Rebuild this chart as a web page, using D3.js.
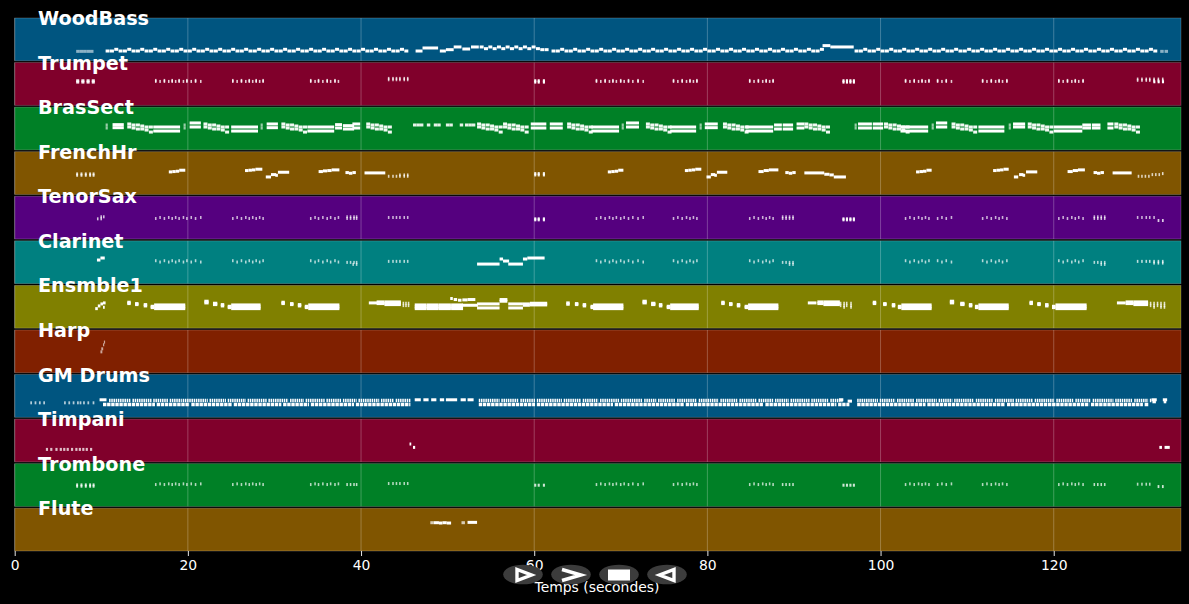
<!DOCTYPE html>
<html lang="fr">
<head>
<meta charset="utf-8">
<title>Piano roll</title>
<script src="https://cdn.jsdelivr.net/npm/d3@7"></script>
<style>
	html, body { margin: 0; background: #000; overflow: hidden; }
	svg { display: block; }
	text { font-family: "DejaVu Sans", sans-serif; fill: #fff; }
</style>
</head>
<body>
<svg></svg>
<script>
// Tick labels and axis title
let xTicks = [0, 20, 40, 60, 80, 100, 120];
let xLabel = "Temps (secondes)";
let duration = 134.7;

// Instruments, top to bottom, and their panel colours
let instruments = ["WoodBass", "Trumpet", "BrasSect", "FrenchHr", "TenorSax", "Clarinet", "Ensmble1", "Harp", "GM Drums", "Timpani", "Trombone", "Flute"];
let colors = ["#005580", "#80002b", "#008026", "#805500", "#55007f", "#008080", "#808000", "#802000", "#005580", "#80002b", "#008026", "#805500"];

// Section hits shared by the horns (seconds)
let hitsA = [16.2,17.2,18.1,18.9,19.8,20.8,25.1,26.1,27,27.8,28.6,34.1,35,36,36.9,67.1,68.1,69,69.9,70.8,71.9,76,77,77.9,78.7,84.8,85.8,86.7,87.5,102.8,103.8,104.7,105.5,106.5,107.5,111.7,112.7,113.6,114.5,120.5,121.5,122.4,123.3];
let hitsB = [16.7,17.7,18.5,19.4,20.3,21.4,25.6,26.6,27.4,28.2,34.6,35.5,36.4,37.3,67.6,68.6,69.4,70.3,71.3,72.5,76.5,77.5,78.3,85.3,86.3,87.1,103.3,104.3,105.1,107,108.1,112.2,113.2,114,121,122,122.8];
let hitsRise = [43.1,43.6,44,44.4,44.9,45.3];
let hitsTag = [38.3,38.7,39.1,39.4,88.6,89,89.4,89.8,124.6,125,125.4,125.8];
let hitsBlock = [60,60.4,61,95.6,96,96.4,96.8];
let hitsEnd = [129.6,130.1,130.6,131,131.5,132,132.5];
let hitsIntro = [7.1,7.6,8.1,8.6,9];

// WoodBass: [pitch, duration, opacity, times]
let bassRows = [
	[28, 0.4, 0.55, [7.1,7.5,7.9,8.3,8.7,132.3,132.8]],
	[29, 0.46, 1, [10.5,11,12,12.5,13.5,14,15,15.5,16.5,17,18,18.5,19.5,20,21,21.5,22.5,23,24,24.5,25.5,26,27,27.5,28.5,29,30,30.5,31.5,32,33,33.5,34.5,35,36,36.5,37.5,38,39,39.5,40.5,41,42,42.5,43.5,44,45,62,62.5,63.5,64,65,65.5,66.5,67,68,68.5,69.5,70,71,71.5,72.5,73,74,74.5,75.5,76,77,77.5,78.5,79,80,80.5,81.5,82,83,83.5,84.5,85,86,86.5,87.5,88,89,89.5,90.5,91,92,92.5,97,97.5,98.5,99,100,100.5,101.5,102,103,103.5,104.5,105,106,106.5,107.5,108,109,109.5,110.5,111,112,112.5,113.5,114,115,115.5,116.5,117,118,118.5,119.5,120,121,121.5,122.5,123,124,124.5,125.5,126,127,127.5,128.5,129,130,130.5,131.5]],
	[34, 0.46, 1, [11.5,13,14.5,16,17.5,19,20.5,22,23.5,25,26.5,28,29.5,31,32.5,34,35.5,37,38.5,40,41.5,43,44.5,63,64.5,66,67.5,69,70.5,72,73.5,75,76.5,78,79.5,81,82.5,84,85.5,87,88.5,90,91.5,93,98,99.5,101,102.5,104,105.5,107,108.5,110,111.5,113,114.5,116,117.5,119,120.5,122,123.5,125,126.5,128,129.5,131]],
	[41, 0.46, 1, [53.7,54.7,55.7,56.7,57.7,58.7,59.7]],
	[36, 0.46, 1, [54.2,55.2,56.2,57.2,58.2,59.2,60.2]],
	[33, 0.46, 1, [60.7,61.2]]
];
let bassSpans = [[46.3,0.8,29],[47.1,1.8,38],[49.1,0.7,29],[49.8,0.9,33],[50.7,0.9,41],[51.7,0.9,35],[52.7,0.9,41],[93.3,0.9,45],[94.2,2.7,41]];

// Trumpet
let trumpetRows = [
	[69, 0.35, 0.9, [7.1,7.7,8.3,8.9]],
	[73, 0.35, 0.9, [7.1,7.7,8.3,8.9]],
	[71, 0.18, 0.8, hitsA],
	[71, 0.18, 0.8, hitsB],
	[74, 0.18, 0.8, hitsA],
	[76, 0.18, 0.75, hitsRise],
	[80, 0.18, 0.75, hitsRise],
	[69, 0.24, 1, hitsBlock],
	[73, 0.24, 1, hitsBlock],
	[74, 0.18, 0.7, hitsEnd],
	[78, 0.18, 0.8, hitsEnd],
	[70, 0.24, 1, [131.5,132,132.5]]
];

// BrasSect: falling stairs of paired notes
let stairTop = [13,21.8,30.8,40.6,53.4,56.4,63.8,72.9,81.8,91.2,100.4,108.2,117,127];
let stairStep1 = [13.5,22.3,31.3,41.1,53.9,56.9,64.3,73.4,82.3,91.7,100.9,108.7,117.5,127.5];
let stairStep2 = [14,22.8,31.8,41.6,54.4,57.4,64.8,73.9,82.8,92.2,101.4,109.2,118,128];
let stairStep3 = [14.5,23.3,32.3,42.1,54.9,57.9,65.3,74.4,83.3,92.7,101.9,109.7,118.5,128.5];
let stairStep4 = [15,23.8,32.8,42.6,55.4,58.4,65.8,74.9,83.8,93.2,102.4,110.2,119,129];
let stairStep5 = [15.5,24.3,33.3,43.1,55.9,58.9,66.3,75.4,84.3,93.7,102.9,110.7,119.5,129.5];
let brassRows = [
	[77, 0.46, 0.95, stairTop], [68, 0.46, 0.95, stairTop],
	[74, 0.46, 0.95, stairStep1], [65, 0.46, 0.95, stairStep1],
	[74, 0.46, 0.95, stairStep2], [62, 0.46, 0.95, stairStep2],
	[71, 0.46, 0.95, stairStep3], [62, 0.46, 0.95, stairStep3],
	[68, 0.46, 0.95, stairStep4], [59, 0.46, 0.95, stairStep4],
	[68, 0.46, 0.95, stairStep5], [53, 0.46, 0.95, stairStep5],
	[74, 0.25, 0.6, [10.5,19.5,28.4,70.1,79.1,97,105.9,114.8]],
	[65, 0.25, 0.6, [10.5,19.5,28.4,70.1,79.1,97,105.9,114.8]],
	[74, 0.4, 0.9, [46,46.4,46.8,47.6,48.4,48.8,49.8,50.2,51.4,52,52.4,52.8]]
];
let brassLong = [[16,3.1],[25,3.1],[33.8,3.1],[66.6,3.2],[75.7,3],[84.4,3.2],[102.3,3.2],[111.3,3],[120,3.3]];
// [start, duration, upper pitch, lower pitch]
let brassShort = [[11.3,1.3,75,66],[20.2,1.3,80,68],[29.1,1.3,77,66],[37,0.8,75,65],[37.9,1.3,72,62],[39,0.9,77,65],[59.6,1.8,77,65],[61.8,1.5,77,65],[70.6,1.5,80,68],[79.7,1.5,77,66],[87.7,0.9,74,62],[88.7,1.2,74,62],[90.3,0.9,77,65],[97.4,1.6,77,65],[99.1,1.2,77,65],[106.4,1.3,80,68],[115.3,1.4,77,68],[123.3,1,74,65],[124.4,1,74,65],[126.2,0.7,77,65]];

// FrenchHr
let hornRows = [
	[57, 0.22, 0.8, hitsIntro],
	[61, 0.22, 0.8, hitsIntro],
	[54, 0.18, 0.75, hitsRise],
	[58, 0.18, 0.75, [44.4,44.9,45.3]],
	[58, 0.24, 0.9, [60,60.4,61]],
	[62, 0.24, 0.9, [60,60.4,61]],
	[54, 0.18, 0.75, [129.7,130.1,130.5,130.9]],
	[59, 0.18, 0.75, [131.3,131.7,132.1]],
	[62, 0.18, 0.8, [132.5]]
];
let hornSpans = [
	[17.8,0.4,67],[18.2,0.4,68],[18.6,0.4,69],[19,0.7,72],
	[26.6,0.4,71],[27,0.4,72],[27.4,0.4,73],[27.8,0.8,75],
	[29,0.6,52],[29.6,0.6,59],[30.1,0.3,57],[30.4,1.3,66],
	[35.1,0.5,68],[35.6,0.5,70],[36.1,0.5,71],[36.6,0.9,73],
	[38.2,0.4,65],[38.6,0.4,63],[39,0.4,65],[40.4,2.4,64],
	[68.5,0.4,67],[68.9,0.4,68],[69.3,0.4,69],[69.7,0.6,72],
	[77.4,0.4,71],[77.8,0.4,72],[78.2,0.4,73],[78.6,0.7,75],
	[79.9,0.5,52],[80.4,0.5,59],[80.8,0.3,57],[81.1,1.2,66],
	[85.9,0.6,68],[86.5,0.6,71],[87.1,1.1,73],[89,0.4,65],[89.4,0.4,63],[89.8,0.4,65],
	[91.2,2.3,64],[93.5,0.6,60],[94.1,0.5,58],[94.6,1.4,52],
	[104.1,0.4,67],[104.5,0.4,68],[104.9,0.4,69],[105.3,0.6,72],
	[113,0.4,71],[113.4,0.4,72],[113.8,0.4,73],[114.2,0.6,75],
	[115.4,0.5,52],[116,0.5,59],[116.4,0.3,57],[116.8,1.3,67],
	[121.6,0.6,68],[122.2,0.6,71],[122.8,0.8,73],[124.6,0.4,65],[125,0.4,63],[125.4,0.4,65],
	[126.8,2.2,64]
];

// TenorSax
let saxRows = [
	[60, 0.18, 0.75, [9.5,9.9]],
	[66, 0.18, 0.75, [9.9,10.2]],
	[61, 0.18, 0.7, hitsA],
	[64, 0.18, 0.7, hitsB],
	[64, 0.18, 0.7, hitsRise],
	[61, 0.18, 0.7, hitsTag],
	[66, 0.18, 0.7, hitsTag],
	[57, 0.24, 0.9, hitsBlock],
	[60, 0.24, 0.9, hitsBlock],
	[64, 0.18, 0.7, [129.6,130.1,130.6,131,131.5]],
	[55, 0.2, 0.8, [132,132.5]]
];

// Clarinet
let clarinetRows = [
	[68, 0.18, 0.7, hitsA],
	[64, 0.18, 0.7, hitsB],
	[66, 0.18, 0.7, hitsRise],
	[63, 0.18, 0.7, hitsTag],
	[57, 0.18, 0.7, [39,39.4,89.4,89.8,125.4,125.8]],
	[66, 0.18, 0.75, hitsEnd],
	[61, 0.18, 0.8, [131.5,132,132.5]]
];
let clarinetSpans = [[9.5,0.4,70],[9.9,0.5,76],[53.4,2.6,58],[56,0.4,73],[56.4,0.7,67],[57,1.7,58],[58.7,0.5,73],[59.2,2,76]];

// Ensmble1: single notes, three-note blocks and two-note blocks
let ensembleSpans = [
	[9.3,0.3,58],[9.6,0.3,66],[9.9,0.3,72],[10.2,0.3,75],[10.2,0.2,62],
	[13,0.4,77],[13,0.4,73],[13.9,0.4,73],[13.9,0.4,70],[14.9,0.4,70],[14.9,0.4,66],[15.7,0.4,65],[15.7,0.4,61],
	[21.9,0.5,80],[21.9,0.5,75],[22.9,0.5,74],[22.9,0.5,70],[23.8,0.4,70],[23.8,0.4,66],[24.6,0.4,65],[24.6,0.4,61],
	[30.8,0.4,77],[30.8,0.4,73],[31.8,0.4,73],[31.8,0.4,70],[32.7,0.4,70],[32.7,0.4,66],[33.5,0.4,65],[33.5,0.4,61],
	[40.9,1,75],[41.8,0.9,78],[41.8,0.9,73],[42.7,1.9,78],[42.7,1.9,74],[42.7,1.9,70],
	[50.3,0.3,88],[50.7,0.4,85],[51.2,0.4,83],[51.7,0.6,84],[52.3,0.9,85],
	[51.7,1.8,68],[56,0.9,85],[56,0.9,80],[58.7,0.8,68],[58.7,0.8,72],[59.5,2,74],[59.5,2,69],
	[63.7,0.4,75],[63.7,0.4,71],[64.7,0.4,73],[64.7,0.4,70],[65.6,0.4,70],[65.6,0.4,66],[66.5,0.4,65],[66.5,0.4,61],
	[72.5,0.5,80],[72.5,0.5,75],[73.5,0.5,74],[73.5,0.5,70],[74.4,0.4,70],[74.4,0.4,66],[75.3,0.4,65],[75.3,0.4,61],
	[81.6,0.4,77],[81.6,0.4,73],[82.5,0.4,73],[82.5,0.4,70],[83.4,0.4,70],[83.4,0.4,66],[84.3,0.4,65],[84.3,0.4,61],
	[91.6,1,75],[92.7,0.7,78],[92.7,0.7,73],[93.4,1.9,78],[93.4,1.9,74],[93.4,1.9,70],
	[99.1,0.4,77],[99.1,0.4,73],[100.3,0.4,73],[100.3,0.4,70],[101.3,0.4,70],[101.3,0.4,66],[102,0.4,65],[102,0.4,61],
	[108,0.5,80],[108,0.5,75],[109.2,0.5,74],[109.2,0.5,70],[110.2,0.4,70],[110.2,0.4,66],[110.9,0.4,65],[110.9,0.4,61],
	[117.2,0.4,77],[117.2,0.4,73],[118.1,0.4,73],[118.1,0.4,70],[119,0.4,70],[119,0.4,66],[119.8,0.4,65],[119.8,0.4,61],
	[127.3,1,75],[128.3,0.9,78],[128.3,0.9,73],[129.2,1.7,78],[129.2,1.7,74],[129.2,1.7,70]
];
let ensembleBlocks = [[16.1,3.6],[25,3.4],[33.9,3.6],[46.2,1.38],[47.6,1.38],[49,1.38],[50.4,1.38],[66.8,3.5],[75.7,3.3],[84.7,3.5],[102.4,3.5],[111.3,3.5],[120.2,3.6]];
let ensembleDoubles = [[53.4,2.6],[57,1.7]];
let ensembleRows = [
	[74, 0.18, 0.8, [44.8,45.1,45.4,95.3,95.7,96,96.5,131.1,131.5,131.9,132.3,132.7]],
	[67, 0.18, 0.8, [44.8,45.1,45.4,95.3,95.7,96,96.5,131.1,131.5,131.9,132.3,132.7]],
	[62, 0.18, 0.8, [95.7,96.5,131.5,132.3,132.7]]
];

// Harp
let harpRows = [[62, 0.22, 0.6, [9.9]], [71, 0.22, 0.6, [10]], [83, 0.14, 0.6, [10.2]], [91, 0.14, 0.6, [10.3]]];

// GM Drums: dense runs of hits [start, duration]
let drumUpperRuns = [[10.9,2.5],[13.6,2.2],[16,1.7],[17.9,1.4],[19.4,2.9],[22.5,1.9],[24.6,2.1],[26.9,2.2],[29.3,2.3],[31.8,1.6],[33.6,2.2],[36,1.7],[37.9,1.6],[39.7,2.4],[42.3,1.5],[44,1.7],[53.6,2.4],[56.2,2],[58.4,1.7],[60.3,2.9],[63.4,2],[65.6,1.8],[67.6,2.2],[70,2.5],[72.7,1.4],[74.3,2],[76.5,2.3],[79,2.3],[81.5,2],[83.7,2],[85.9,1.7],[87.8,1.6],[89.6,2.2],[92,2],[94.2,1.4],[97.3,2.4],[99.9,1.8],[101.9,2],[104.1,2.4],[106.7,1.6],[108.5,2.3],[111,2],[113.2,2.2],[115.6,2],[117.8,2.3],[120.3,2],[122.5,1.8],[124.5,2.4],[127.1,2],[129.3,1.6],[131.1,0.2]];
let drumLowerRuns = [[10.2,6],[16.4,3.8],[20.4,4.7],[25.3,5.5],[31,3],[34.2,5],[39.4,6.3],[53.6,6.5],[60.3,8.8],[69.3,8],[77.5,9],[86.7,8.2],[95.1,1.3],[97.3,7.9],[105.4,9],[114.6,9.5],[124.3,6],[130.5,0.5]];
let drumIntro = [1.8,2.3,2.8,3.3,5.7,6.2,6.7,7.2,7.5,7.9,8.4,9];
let drumSpans = [[9.8,0.8,52],[46.2,0.7,52],[47.2,0.6,52],[48.1,0.6,52],[49.1,0.5,52],[49.8,1.3,52],[51.5,0.6,52],[52.3,0.7,52],[95.2,0.5,52],[96.2,0.5,48],[131.3,0.6,52],[131.4,0.4,46],[132.6,0.5,52],[132.7,0.3,46]];

// Timpani, Trombone, Flute
let timpaniRows = [[37, 0.25, 0.75, [3.6,4.1,4.7,5.2,5.6,6,6.5,7,7.4,7.8,8.2,8.7]]];
let timpaniSpans = [[45.6,0.2,53],[46,0.25,43],[132.2,0.3,43],[132.8,0.6,43]];
let tromboneRows = [
	[60, 0.22, 0.8, hitsIntro],
	[64, 0.22, 0.8, hitsIntro],
	[65, 0.18, 0.7, hitsA],
	[67, 0.18, 0.7, hitsB],
	[68, 0.18, 0.7, hitsRise],
	[65, 0.18, 0.75, hitsTag],
	[63, 0.24, 0.8, hitsBlock],
	[66, 0.18, 0.7, [129.6,130.1,130.6,131]],
	[59, 0.2, 0.8, [132,132.5]]
];
let fluteRows = [[84, 0.4, 0.7, [48,51.6]]];
let fluteSpans = [[48.4,0.6,84],[49,0.4,83],[49.4,0.5,84],[49.9,0.5,83],[52.3,1.1,85]];

// Player buttons
let buttonCenters = [523, 571, 619, 667];

// Chart variables
let width = 1189;
let height = 604;
let plotLeft = 14.7;
let plotRight = 1181;
let plotTop = 18;
let plotBottom = 551;
let noteHeight = 3;

let svg = d3.select("svg").attr("width", width).attr("height", height);

let xScale = d3.scaleLinear().domain([0, duration]).range([plotLeft, plotRight]);
let panelScale = d3.scaleBand().domain(instruments).range([plotTop, plotBottom]).paddingInner(0.04);

// Flatten rows and spans into {t, d, p, o} notes
let fromRows = (rows) => rows.flatMap(([p, d, o, times]) => times.map((t) => ({ t, d, p, o })));
let fromSpans = (spans) => spans.map(([t, d, p]) => ({ t, d, p, o: 1 }));

let notesByInstrument = {
	WoodBass: [...fromRows(bassRows), ...fromSpans(bassSpans)],
	Trumpet: fromRows(trumpetRows),
	BrasSect: [
		...fromRows(brassRows),
		...fromSpans(brassLong.flatMap(([t, d]) => [[t, d, 68], [t, d, 56]])),
		...fromSpans(brassShort.flatMap(([t, d, hi, lo]) => [[t, d, hi], [t, d, lo]]))
	],
	FrenchHr: [...fromRows(hornRows), ...fromSpans(hornSpans)],
	TenorSax: fromRows(saxRows),
	Clarinet: [...fromRows(clarinetRows), ...fromSpans(clarinetSpans)],
	Ensmble1: [
		...fromRows(ensembleRows),
		...fromSpans(ensembleSpans),
		...fromSpans(ensembleBlocks.flatMap(([t, d]) => [[t, d, 69], [t, d, 63], [t, d, 58]])),
		...fromSpans(ensembleDoubles.flatMap(([t, d]) => [[t, d, 72], [t, d, 60]]))
	],
	Harp: fromRows(harpRows),
	"GM Drums": [...fromRows([[43, 0.2, 0.7, drumIntro]]), ...fromSpans(drumSpans)],
	Timpani: [...fromRows(timpaniRows), ...fromSpans(timpaniSpans)],
	Trombone: fromRows(tromboneRows),
	Flute: [...fromRows(fluteRows), ...fromSpans(fluteSpans)]
};

let drawPanels = () => {
	instruments.forEach((name, i) => {
		let y0 = panelScale(name);
		let yScale = d3.scaleLinear().domain([0, 127]).range([y0 + panelScale.bandwidth(), y0]);
		let panel = svg.append("g").attr("class", "panel");

		panel.append("rect")
			.attr("x", plotLeft)
			.attr("y", y0)
			.attr("width", plotRight - plotLeft)
			.attr("height", panelScale.bandwidth())
			.attr("fill", colors[i])
			.attr("stroke", "rgba(255,255,255,0.25)")
			.attr("stroke-width", 0.8);

		panel.selectAll("line.grid")
			.data(xTicks)
			.join("line")
			.attr("class", "grid")
			.attr("x1", (d) => xScale(d))
			.attr("x2", (d) => xScale(d))
			.attr("y1", y0)
			.attr("y2", y0 + panelScale.bandwidth())
			.attr("stroke", "#fff")
			.attr("stroke-opacity", 0.28)
			.attr("stroke-width", 0.9);

		panel.selectAll("rect.note")
			.data(notesByInstrument[name])
			.join("rect")
			.attr("class", "note")
			.attr("x", (d) => xScale(d.t))
			.attr("y", (d) => yScale(d.p) - noteHeight / 2)
			.attr("width", (d) => xScale(d.t + d.d) - xScale(d.t))
			.attr("height", noteHeight)
			.attr("fill", "#fff")
			.attr("fill-opacity", (d) => d.o);

		// Drum runs are too dense to read hit by hit, so they are dashed
		if (name === "GM Drums") {
			let drawRuns = (runs, pitch, thickness, dash) => {
				panel.selectAll(null)
					.data(runs)
					.join("line")
					.attr("x1", (d) => xScale(d[0]))
					.attr("x2", (d) => xScale(d[0] + d[1]))
					.attr("y1", yScale(pitch))
					.attr("y2", yScale(pitch))
					.attr("stroke", "#fff")
					.attr("stroke-width", thickness)
					.attr("stroke-dasharray", dash);
			};
			drawRuns(drumUpperRuns, 50, 3.6, "1.5 0.7");
			drawRuns(drumLowerRuns, 38, 3.4, "3.4 0.7");
		}
	});
};

let drawAxis = () => {
	let xAxis = d3.axisBottom(xScale).tickValues(xTicks).tickSize(5).tickPadding(4);

	let axis = svg.append("g")
		.attr("transform", "translate(0, " + plotBottom + ")")
		.call(xAxis);

	axis.select(".domain").remove();
	axis.selectAll(".tick line").attr("stroke", "#fff").attr("stroke-width", 0.9);
	axis.selectAll(".tick text").style("font-family", "DejaVu Sans").style("font-size", "13.9px").attr("fill", "#fff");

	svg.append("text")
		.attr("x", 597)
		.attr("y", 592)
		.attr("text-anchor", "middle")
		.style("font-size", "13.9px")
		.text(xLabel);
};

let drawTitles = () => {
	svg.selectAll("text.title")
		.data(instruments)
		.join("text")
		.attr("class", "title")
		.attr("x", 38)
		.attr("y", (d) => panelScale(d) + 7)
		.style("font-size", "19.2px")
		.style("font-weight", "bold")
		.text((d) => d);
};

let drawButtons = () => {
	let glyphs = [
		"M-6,-5 L-6,6 L8.5,0.5 Z",
		"M-9,-5 L10,0.5 L-9,6",
		null,
		"M7,-5 L7,6 L-7.5,0.5 Z"
	];

	let buttons = svg.selectAll("g.button")
		.data(buttonCenters)
		.join("g")
		.attr("class", "button")
		.attr("transform", (d) => "translate(" + d + ", 574.5)");

	buttons.append("ellipse").attr("rx", 19.8).attr("ry", 9.8).attr("fill", "#3c3c3c");

	buttons.filter((d, i) => glyphs[i])
		.append("path")
		.attr("d", (d) => glyphs[buttonCenters.indexOf(d)])
		.attr("fill", "none")
		.attr("stroke", "#fff")
		.attr("stroke-width", 3.4);

	buttons.filter((d, i) => i === 2)
		.append("rect")
		.attr("x", -11)
		.attr("y", -5)
		.attr("width", 22)
		.attr("height", 11)
		.attr("fill", "#fff");
};

drawPanels();
drawAxis();
drawTitles();
drawButtons();
</script>
</body>
</html>
